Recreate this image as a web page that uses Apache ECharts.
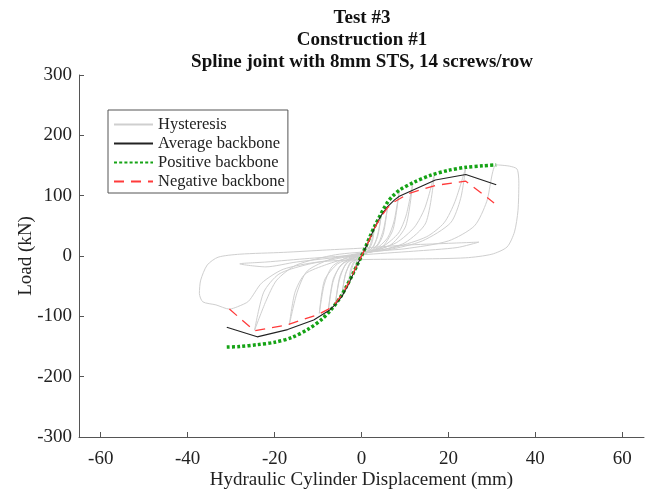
<!DOCTYPE html>
<html>
<head>
<meta charset="utf-8">
<script src="https://cdn.jsdelivr.net/npm/echarts@6/dist/echarts.min.js"></script>
<style>
  html, body { margin: 0; padding: 0; background: #fff; }
  #chart { width: 652px; height: 489px; }
</style>
</head>
<body>
<div id="chart"></div>
<script>
// Hysteresis record, one array per loading cycle: [displacement mm, load kN]
const cycle1 = [[0,0],[0.8,10],[1.5,24],[1.2,12],[0.5,3],[-0.3,-2],[-0.9,-10],[-1.5,-22],[-1.2,-10],[-0.5,-2],[0,1]];
const cycle2 = [[0.8,4],[2,18],[3,47],[2.5,24],[1.5,8],[0,1],[-1,-4],[-2,-16],[-3,-45],[-2.5,-22],[-1.5,-6],[0,2]];
const cycle3 = [[1,5],[2.5,14],[3.7,32],[4.5,65],[3.8,38],[2.8,16],[1,5],[-1,-3],[-2.5,-12],[-3.7,-30],[-4.5,-64],[-3.8,-34],[-2.7,-12],[-1,0],[0.5,4]];
const cycle4 = [[1.5,6],[3.5,15],[5,36],[6,82],[5.1,45],[3.8,20],[1.5,6],[-1.5,-3],[-3.5,-13],[-5,-34],[-6,-78],[-5.1,-40],[-3.7,-14],[-1.5,0],[1,5]];
const cycle5 = [[2,7],[5,17],[7.3,45],[8.7,109],[7.5,58],[6,30],[3,10],[0,3],[-2,-4],[-4.5,-14],[-6.5,-38],[-7.6,-88],[-6.6,-44],[-5,-17],[-2,-1],[1,5]];
const cycle6 = [[3,8],[7,20],[10.2,50],[11.8,121],[10.3,68],[8.5,38],[5,16],[1,5],[-2,-3],[-5.5,-13],[-8.5,-40],[-9.7,-95],[-8.6,-48],[-6.8,-18],[-3,-1],[1,6]];
const cycle7 = [[4,9],[10,22],[14.8,55],[16.8,136],[14.6,80],[12.2,48],[8,22],[2,7],[-3,-3],[-8,-14],[-13,-30],[-15.3,-60],[-16.6,-114],[-14.8,-60],[-12.5,-25],[-7,-5],[0,5]];
const cycle8 = [[6,10],[14,25],[20.5,55],[22.8,95],[24,147],[21.5,90],[19,55],[15,32],[8,15],[0,4],[-6,-5],[-13,-15],[-19,-30],[-22.5,-60],[-24.6,-123],[-22,-75],[-19.5,-40],[-15,-15],[-6,2],[3,8]];
const cycle9 = [[10,12],[20,25],[26,50],[28.8,90],[31,151],[34,149],[35.8,144],[36.2,120],[36,75],[35.2,40],[33.5,15],[30,3],[24,-3],[12,-5],[0,-6],[-10,-10],[-18,-22],[-23,-45],[-26,-75],[-28.5,-84],[-30.4,-88],[-33.5,-81],[-36.5,-76],[-37.3,-62],[-37,-40],[-35.5,-15],[-33,-2],[-28,3],[-18,6],[-8,10],[0,13]];
const cycle10 = [[10,18],[20,21],[27,23],[22,14],[12,8],[0,2],[-12,-4],[-22,-10],[-28,-13],[-22,-18],[-15,-10],[-5,-2],[0,0]];

// Backbone curves: [displacement mm, load kN]
const averageBackbone = [[-31,-118],[-24,-134],[-17,-122],[-11,-106],[-7.4,-90],[-6,-80],[-4.5,-67],[-3,-47],[-1.5,-23],[0,0],[1.5,22],[3,47],[4.5,67],[6,82],[7.6,93],[8.7,99],[17,126],[24,135],[31,118]];
const positiveBackbone = [[-31,-151],[-28,-150],[-24,-147],[-20,-143],[-16,-135],[-12,-120],[-9,-104],[-7,-89],[-5,-70],[-3.5,-51],[-2,-30],[-1,-15],[0,0],[1,16],[2,33],[3,49],[4,63],[5,77],[6,89],[7,98],[8.7,109],[12,122],[16,134],[20,142],[24,147],[28,149.5],[31,151]];
const negativeBackbone = [[-30.4,-88],[-24.6,-124],[-17,-114],[-10,-97],[-7.6,-88],[-6,-78],[-4.5,-64],[-3,-45],[-1.5,-22],[0,0],[1.5,22],[3,46],[4.5,65],[6,80],[7.6,90],[11,104],[17,117],[24,124],[30.5,88]];

// Axis ticks
const xTicks = [-60, -40, -20, 0, 20, 40, 60];
const titleLines = ['Test #3', 'Construction #1', 'Spline joint with 8mm STS, 14 screws/row'];

const hysteresis = [].concat(cycle1, cycle2, cycle3, cycle4, cycle5, cycle6, cycle7, cycle8, cycle9, cycle10);

const serif = '"Liberation Serif", "Times New Roman", serif';
const chart = echarts.init(document.getElementById('chart'), null, { renderer: 'canvas' });

chart.setOption({
  backgroundColor: '#ffffff',
  animation: false,
  title: {
    text: titleLines.join('\n'),
    left: 357,
    textAlign: 'center',
    top: 2,
    textStyle: { fontFamily: serif, fontWeight: 'bold', fontSize: 19, lineHeight: 22, color: '#111' }
  },
  legend: {
    orient: 'vertical',
    left: 108,
    top: 110,
    padding: [6, 3, 3, 5],
    itemGap: 2,
    itemWidth: 39,
    itemHeight: 17,
    backgroundColor: '#fff',
    borderColor: '#555',
    borderWidth: 1,
    borderRadius: 0,
    itemStyle: { opacity: 0, color: 'rgba(0,0,0,0)', borderWidth: 0 },
    textStyle: { fontFamily: serif, fontSize: 16.5, color: '#222' },
    data: ['Hysteresis', 'Average backbone', 'Positive backbone', 'Negative backbone']
  },
  grid: { left: 79, right: 8, top: 75, bottom: 52, containLabel: false, outerBoundsMode: 'none' },
  xAxis: {
    type: 'value',
    min: -65,
    max: 65,
    name: 'Hydraulic Cylinder Displacement (mm)',
    nameLocation: 'middle',
    nameGap: 34,
    nameMoveOverlap: false,
    nameTextStyle: { fontFamily: serif, fontSize: 19, color: '#222' },
    axisLine: { show: true, onZero: false, lineStyle: { color: '#555', width: 1 } },
    axisTick: { show: true, inside: true, length: 5, customValues: xTicks, lineStyle: { color: '#555' } },
    axisLabel: { customValues: xTicks, fontFamily: serif, fontSize: 19, color: '#222', margin: 13 },
    splitLine: { show: false }
  },
  yAxis: {
    type: 'value',
    min: -300,
    max: 300,
    interval: 100,
    name: 'Load (kN)',
    nameLocation: 'middle',
    nameGap: 43,
    nameMoveOverlap: false,
    nameTextStyle: { fontFamily: serif, fontSize: 19, color: '#222' },
    axisLine: { show: true, onZero: false, lineStyle: { color: '#555', width: 1 } },
    axisTick: { show: true, inside: true, length: 5, lineStyle: { color: '#555' } },
    axisLabel: { fontFamily: serif, fontSize: 19, color: '#222', margin: 7 },
    splitLine: { show: false }
  },
  series: [
    {
      name: 'Hysteresis',
      type: 'line',
      data: hysteresis,
      showSymbol: false,
      symbol: 'none',
      smooth: 0.25,
      lineStyle: { color: '#cfcfcf', width: 1 },
      itemStyle: { color: '#cfcfcf' },
      z: 1
    },
    {
      name: 'Average backbone',
      type: 'line',
      data: averageBackbone,
      showSymbol: false,
      symbol: 'none',
      lineStyle: { color: '#222', width: 1.1 },
      itemStyle: { color: '#222' },
      z: 3
    },
    {
      name: 'Positive backbone',
      type: 'line',
      data: positiveBackbone,
      showSymbol: false,
      symbol: 'none',
      smooth: 0.3,
      lineStyle: { color: '#15a315', width: 3.5, type: [3, 2.2], cap: 'butt' },
      itemStyle: { color: '#15a315' },
      z: 2
    },
    {
      name: 'Negative backbone',
      type: 'line',
      data: negativeBackbone,
      showSymbol: false,
      symbol: 'none',
      lineStyle: { color: '#ff3b3b', width: 1.3, type: [10, 7] },
      itemStyle: { color: '#ff3b3b' },
      z: 4
    }
  ]
});
</script>
</body>
</html>
